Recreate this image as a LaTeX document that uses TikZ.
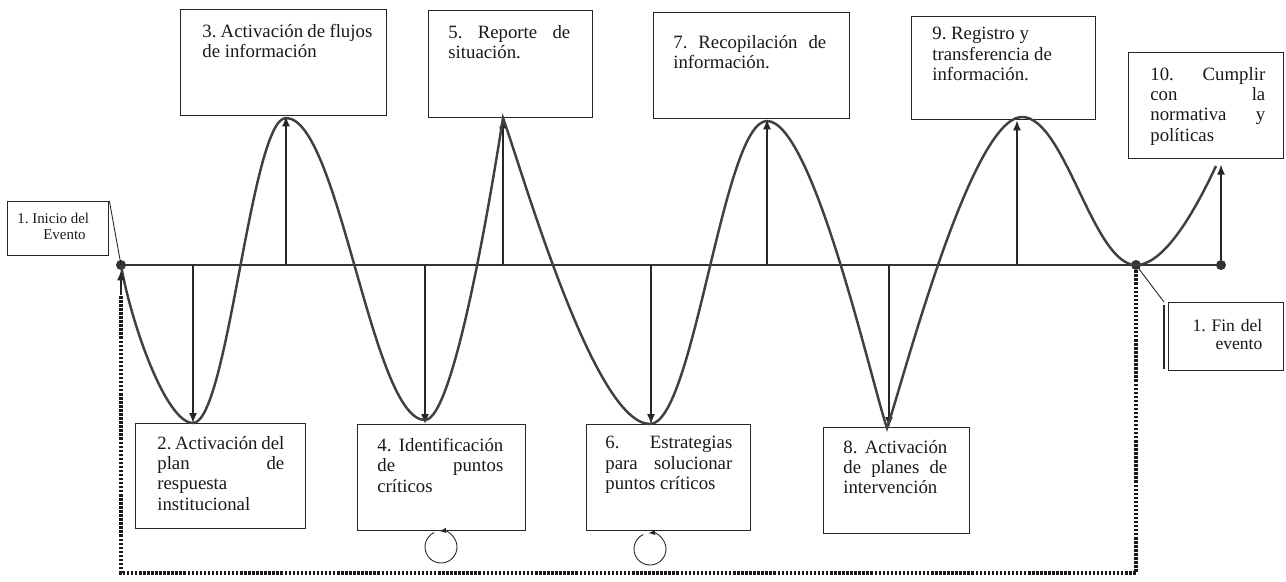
\documentclass[tikz,border=0pt]{standalone}
\usepackage{fontspec}
\setmainfont{Liberation Serif}
\usetikzlibrary{arrows.meta}
\hyphenpenalty=10000
\tolerance=10000
\hbadness=10000

\tikzset{
  >={Latex[length=2mm,width=1.6mm]},
  stepbox/.style={draw=black!85, line width=0.8pt, inner sep=0pt, anchor=north west},
  steptext/.style={anchor=north west, inner sep=0pt, align=justify, text=black!90,
    font=\fontsize{10.7}{11.5}\selectfont},
  wave/.style={draw=black!75, line width=1.4pt},
  axisline/.style={draw=black!80, line width=0.8pt},
  arrowline/.style={draw=black!85, line width=0.8pt},
  thinline/.style={draw=black!85, line width=0.5pt},
  dot/.style={circle, fill=black!80, inner sep=0pt, minimum size=0.2cm},
  loopline/.style={draw=black!90, line width=2pt, dash pattern=on 1.4pt off 0.9pt},
  cyc/.style={draw=black!85, line width=0.5pt, -{Latex[length=1.3mm,width=1.1mm]}}
}

\begin{document}
\begin{tikzpicture}[x=0.02cm, y=-0.02cm]
\useasboundingbox (0,0) rectangle (1286,582);

% boxes of the steps
\node[stepbox, minimum width=2.02cm, minimum height=1.08cm] (s1) at (7,201) {};
\node[stepbox, minimum width=3.40cm, minimum height=2.10cm] (s2) at (135,423) {};
\node[stepbox, minimum width=4.12cm, minimum height=2.12cm] (s3) at (180,9) {};
\node[stepbox, minimum width=3.36cm, minimum height=2.12cm] (s4) at (357,424) {};
\node[stepbox, minimum width=3.28cm, minimum height=2.14cm] (s5) at (428,10) {};
\node[stepbox, minimum width=3.28cm, minimum height=2.12cm] (s6) at (586,424) {};
\node[stepbox, minimum width=3.92cm, minimum height=2.12cm] (s7) at (653,12) {};
\node[stepbox, minimum width=2.92cm, minimum height=2.12cm] (s8) at (823,427) {};
\node[stepbox, minimum width=3.68cm, minimum height=2.06cm] (s9) at (911,16) {};
\node[stepbox, minimum width=3.10cm, minimum height=2.12cm] (s10) at (1128,52) {};
\node[stepbox, minimum width=2.30cm, minimum height=1.36cm] (sf) at (1168,302) {};
\draw[stepbox] ([shift={(-4,3)}]sf.north west) -- ([shift={(-4,-2)}]sf.south west);

% texts
\node[steptext, align=left, font=\fontsize{8.5}{9}\selectfont] (t1) at ([shift={(10,12)}]s1.north west)
  {1.~Inicio del\\\hspace*{0.52cm}Evento};
\node[steptext, text width=2.54cm] (t2) at ([shift={(22,13)}]s2.north west)
  {2.~Activación~del \linebreak plan~de \linebreak respuesta \linebreak institucional};
\node[steptext, text width=3.40cm] (t3) at ([shift={(22,15)}]s3.north west)
  {3.~Activación~de~flujos \linebreak de~información};
\node[steptext, text width=2.52cm] (t4) at ([shift={(20,14)}]s4.north west)
  {4.~Identificación \linebreak de~puntos \linebreak críticos};
\node[steptext, text width=2.44cm] (t5) at ([shift={(20,15)}]s5.north west)
  {5.~Reporte~de \linebreak situación.};
\node[steptext, text width=2.54cm] (t6) at ([shift={(19,12)}]s6.north west)
  {6.~Estrategias \linebreak para~solucionar \linebreak puntos~críticos};
\node[steptext, text width=3.06cm] (t7) at ([shift={(20,23)}]s7.north west)
  {7.~Recopilación~de \linebreak información.};
\node[steptext, text width=2.08cm] (t8) at ([shift={(20,13)}]s8.north west)
  {8.~Activación \linebreak de~planes~de \linebreak intervención};
\node[steptext, align=left] (t9) at ([shift={(21,11)}]s9.north west)
  {9.~Registro y\\transferencia de\\información.};
\node[steptext, text width=2.30cm] (t10) at ([shift={(22,15)}]s10.north west)
  {10.~Cumplir \linebreak con~la \linebreak normativa~y \linebreak políticas};
\node[steptext, align=right, text width=1.44cm, font=\fontsize{10}{10.5}\selectfont] (tf)
  at ([shift={(22,17)}]sf.north west) {1.~Fin del\\evento};

% time line
\node[dot] (d1) at (121,265) {};
\node[dot] (de) at (1136,265) {};
\node[dot] (d3) at (1221,265) {};
\draw[axisline] (d1.center) -- (d3.center);
\draw[thinline] (s1.north east) -- (d1.center);
\draw[thinline] (de.center) -- ([shift={(-4,0)}]sf.north west);

% arrows to the steps
\foreach \n/\x in {2/193,4/425,6/651,8/889}{
  \coordinate (a\n) at (\x,265);
  \draw[arrowline,->] (a\n) -- (a\n |- s\n.north);
}
\foreach \n/\x in {3/286,5/503,7/767,9/1017}{
  \coordinate (a\n) at (\x,265);
  \draw[arrowline,->] (a\n) -- (a\n |- s\n.south);
}
\draw[arrowline,->,shorten >=3pt] (d3) -- (d3 |- s10.south);

% wave
\draw[wave] (d1.center) .. controls (131,323) and (166,423) .. (193,423)
  .. controls (228,423) and (251,118) .. (286,118)
  .. controls (339,118) and (372,420) .. (425,420)
  .. controls (455,420) and (494,175) .. (503,118)
  .. controls (522,170) and (594,424) .. (650,424)
  .. controls (694,424) and (723,121) .. (767,121)
  .. controls (813,121) and (872,385) .. (887,428)
  .. controls (902,385) and (971,117) .. (1022,117)
  .. controls (1065,117) and (1093,265) .. (de.center)
  .. controls (1167,265) and (1200,200) .. (1216,166);

% way back
\coordinate (lc) at (600,573);
\draw[loopline] (de) -- (de |- lc) -| ([yshift=-14]d1.south);
\draw[arrowline,->] ([yshift=-14]d1.south) -- (d1);

% small cycles
\coordinate (r4) at (441,547);
\coordinate (r6) at (650,549);
\foreach \r in {r4,r6}
  \draw[cyc] ([shift={(245:16)}]\r) arc (245:-95:16);
\end{tikzpicture}
\end{document}
